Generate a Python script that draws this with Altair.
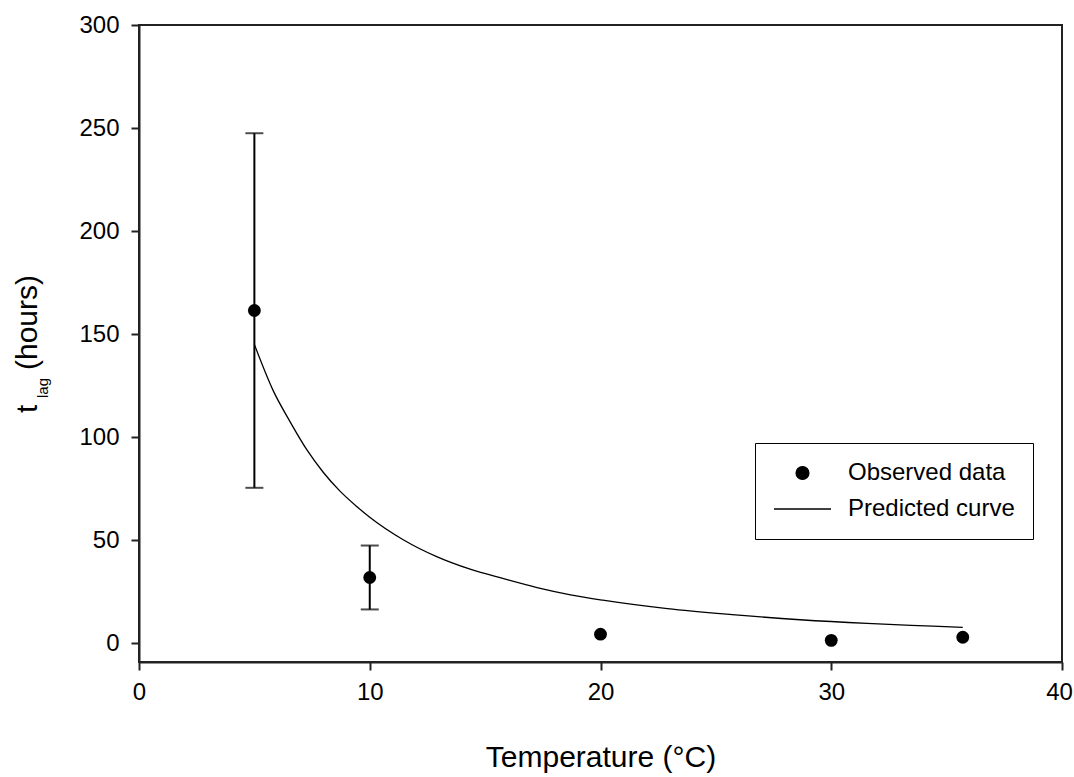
import altair as alt
import pandas as pd

# Observed lag times (mean and standard deviation) by incubation temperature
temperature = [5, 10, 20, 30, 35.7]
lag_mean = [161.5, 32.0, 4.5, 1.5, 3.0]
lag_sd = [86.0, 15.5, 0.0, 0.0, 0.0]

# Predicted lag-time curve
curve_temperature = [5.0, 5.8, 6.55, 7.3, 8.0, 8.7, 9.45, 10.0, 11.45, 12.9, 14.35,
                     15.8, 17.25, 18.7, 20.1, 22.9, 25.7, 28.65, 31.55, 34.4, 35.7]
curve_lag = [145.0, 123.0, 107.5, 93.5, 82.8, 74.0, 66.3, 61.2, 50.3, 42.1, 36.0,
             31.4, 27.1, 23.6, 21.0, 16.9, 14.0, 11.5, 9.7, 8.4, 7.8]

x_ticks = [0, 10, 20, 30, 40]
y_ticks = [0, 50, 100, 150, 200, 250, 300]

OBS = "Observed data"
PRED = "Predicted curve"
FONT = "Liberation Sans"

obs = pd.DataFrame({"T": temperature, "lag": lag_mean, "sd": lag_sd, "s": OBS})
obs["lo"] = obs["lag"] - obs["sd"]
obs["hi"] = obs["lag"] + obs["sd"]
bars = obs[obs["sd"] > 0]
curve = pd.DataFrame({"T": curve_temperature, "lag": curve_lag, "s": PRED})

x_scale = alt.Scale(domain=[0, 40], nice=False, zero=False)
y_scale = alt.Scale(domain=[-9, 300], nice=False, zero=False)
x_axis = alt.Axis(
    values=x_ticks, title="Temperature (°C)", titleY=104,
    titleBaseline="alphabetic", labelFlush=False,
    # nudge the last label so it stays inside the page edge
    labelOffset={"condition": {"test": "datum.value == 40", "value": -3}, "value": 0},
)
y_axis = alt.Axis(values=y_ticks, title=None, labelFlush=False)

X = alt.X("T:Q", scale=x_scale, axis=x_axis)

legend = alt.Legend(
    title=None, orient="none", direction="vertical",
    legendX=616, legendY=418,
    strokeColor="black", fillColor="white", padding=18,
    labelFont=FONT, labelFontSize=24, labelColor="black", labelOffset=16,
    labelLimit=400, rowPadding=12, clipHeight=24,
    symbolStrokeColor="black", symbolStrokeWidth=1.3, symbolFillColor="black",
)
color = alt.Color("s:N", scale=alt.Scale(domain=[OBS, PRED], range=["black", "black"]),
                  legend=legend)
shape = alt.Shape("s:N", scale=alt.Scale(domain=[OBS, PRED], range=["circle", "stroke"]),
                  legend=legend)
size = alt.Size("s:N", scale=alt.Scale(type="ordinal", domain=[OBS, PRED], range=[165, 3249]),
                legend=legend)

err_rule = alt.Chart(bars).mark_rule(color="black", strokeWidth=2).encode(
    x=X,
    y=alt.Y("lo:Q", scale=y_scale, axis=y_axis),
    y2="hi:Q",
)
cap_lo = alt.Chart(bars).mark_tick(color="black", orient="horizontal", size=18, thickness=2).encode(
    x=X, y=alt.Y("lo:Q", scale=y_scale, axis=y_axis)
)
cap_hi = alt.Chart(bars).mark_tick(color="black", orient="horizontal", size=18, thickness=2).encode(
    x=X, y=alt.Y("hi:Q", scale=y_scale, axis=y_axis)
)
line = alt.Chart(curve).mark_line(strokeWidth=1.3, interpolate="monotone").encode(
    x=X, y=alt.Y("lag:Q", scale=y_scale, axis=y_axis), color=color
)
points = alt.Chart(obs).mark_point(filled=True, opacity=1).encode(
    x=X, y=alt.Y("lag:Q", scale=y_scale, axis=y_axis),
    color=color, shape=shape, size=size,
)

# y-axis title "t_lag (hours)" with a subscript, set as rotated text
one = pd.DataFrame({"k": [0]})


def ytext(txt, x, y, fs):
    return alt.Chart(one).mark_text(
        angle=270, align="left", baseline="alphabetic", font=FONT, fontSize=fs, color="black"
    ).encode(x=alt.value(x), y=alt.value(y), text=alt.value(txt))


title_t = ytext("t", -102, 388, 30)
title_lag = ytext("lag", -91, 373, 15)
title_hours = ytext("(hours)", -102, 345, 30)

chart = alt.layer(
    err_rule, cap_lo, cap_hi, line, points, title_t, title_lag, title_hours
).properties(
    width=923, height=637,
    autosize=alt.AutoSizeParams(type="none"),
    padding={"left": 139, "top": 25, "right": 12, "bottom": 115},
    background="white",
).configure_view(
    stroke="#222", strokeWidth=2
).configure_axis(
    grid=False,
    domainColor="#222", domainWidth=2,
    tickColor="#222", tickWidth=2, tickSize=8,
    labelFont=FONT, labelFontSize=24, labelColor="black", labelPadding=10,
    titleFont=FONT, titleFontSize=30, titleColor="black", titleFontWeight="normal",
).configure_axisY(labelPadding=12)

chart.save("out.html", embed_options={"renderer": "svg", "actions": False})
